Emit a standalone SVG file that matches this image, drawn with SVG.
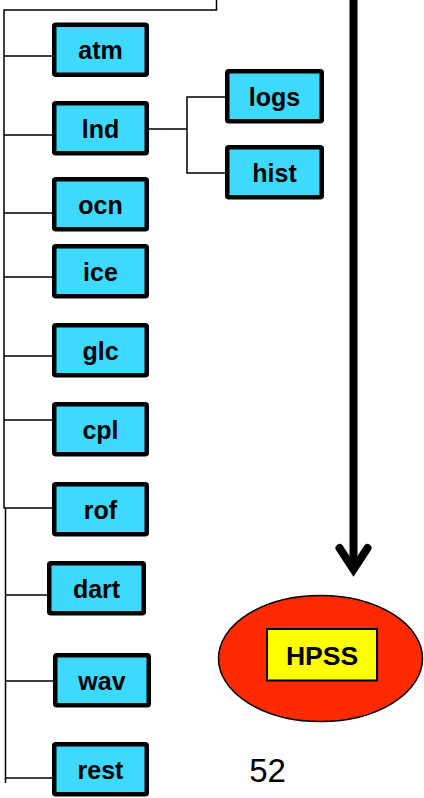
<svg xmlns="http://www.w3.org/2000/svg" width="424" height="798" viewBox="0 0 424 798">
<style>
.box{fill:#3DD9FF;stroke:#000;stroke-width:4.5;}
.lbl{font-family:"Liberation Sans",Arial,sans-serif;font-weight:bold;font-size:25px;text-anchor:middle;fill:#000;}
.ln{fill:none;stroke:#000;stroke-width:1.5;}
</style>
<rect width="424" height="798" fill="#fff"/>
<g id="connectors">
<polyline class="ln" points="216.5,0 216.5,10 4,10 4,508"/>
<polyline class="ln" points="5.5,508 5.5,783"/>
<line class="ln" x1="4" y1="56" x2="52" y2="56"/>
<line class="ln" x1="4" y1="135" x2="52" y2="135"/>
<line class="ln" x1="4" y1="213" x2="52" y2="213"/>
<line class="ln" x1="4" y1="277" x2="52" y2="277"/>
<line class="ln" x1="4" y1="356" x2="52" y2="356"/>
<line class="ln" x1="4" y1="420" x2="52" y2="420"/>
<line class="ln" x1="3.5" y1="508" x2="52" y2="508"/>
<line class="ln" x1="5.5" y1="595" x2="47" y2="595"/>
<line class="ln" x1="5.5" y1="681" x2="58" y2="681"/>
<line class="ln" x1="5.5" y1="778" x2="52" y2="778"/>
<polyline class="ln" points="149,129 187,129"/>
<polyline class="ln" points="225,97 187,97 187,173 225,173"/>
<line x1="353.5" y1="0" x2="353.5" y2="570" stroke="#000" stroke-width="8"/>
<polyline points="339.5,548 353.5,569.5 367.5,548" fill="none" stroke="#000" stroke-width="8" stroke-linecap="round" stroke-linejoin="miter"/>
</g>
<g id="atm"><rect class="box" x="54.25" y="24.75" width="92.5" height="50" rx="1.5"/><text class="lbl" x="100.5" y="59.3">atm</text></g>
<g id="lnd"><rect class="box" x="54.25" y="103.25" width="92.5" height="50" rx="1.5"/><text class="lbl" x="100.5" y="138">lnd</text></g>
<g id="logs"><rect class="box" x="227.25" y="71.25" width="94.5" height="50" rx="1.5"/><text class="lbl" x="274.5" y="106">logs</text></g>
<g id="hist"><rect class="box" x="227.25" y="147.25" width="94.5" height="50" rx="1.5"/><text class="lbl" x="274.5" y="182">hist</text></g>
<g id="ocn"><rect class="box" x="54.25" y="179.25" width="92.5" height="50" rx="1.5"/><text class="lbl" x="100.5" y="214">ocn</text></g>
<g id="ice"><rect class="box" x="54.25" y="246.25" width="92.5" height="50" rx="1.5"/><text class="lbl" x="100.5" y="281">ice</text></g>
<g id="glc"><rect class="box" x="54.25" y="325.25" width="92.5" height="50" rx="1.5"/><text class="lbl" x="100.5" y="360">glc</text></g>
<g id="cpl"><rect class="box" x="54.25" y="404.25" width="92.5" height="50" rx="1.5"/><text class="lbl" x="100.5" y="439">cpl</text></g>
<g id="rof"><rect class="box" x="54.25" y="484.25" width="92.5" height="50" rx="1.5"/><text class="lbl" x="100.5" y="519">rof</text></g>
<g id="dart"><rect class="box" x="49.25" y="563.25" width="94.5" height="50" rx="1.5"/><text class="lbl" x="96.5" y="598">dart</text></g>
<g id="wav"><rect class="box" x="55.25" y="655.25" width="93.5" height="50" rx="1.5"/><text class="lbl" x="102" y="690">wav</text></g>
<g id="rest"><rect class="box" x="54.25" y="744.25" width="92.5" height="50" rx="1.5"/><text class="lbl" x="100.5" y="779">rest</text></g>
<g id="HPSS">
<ellipse cx="320.5" cy="658.5" rx="102" ry="63" fill="#FF2A00" stroke="#000" stroke-width="1.5"/>
<rect x="267" y="629" width="110" height="51.5" fill="#FFFF00" stroke="#000" stroke-width="2"/>
<text class="lbl" x="322" y="665" style="font-size:26.5px">HPSS</text>
</g>
<text x="267.5" y="782" font-family="'Liberation Sans',Arial,sans-serif" font-size="33" text-anchor="middle" fill="#000">52</text>
</svg>
